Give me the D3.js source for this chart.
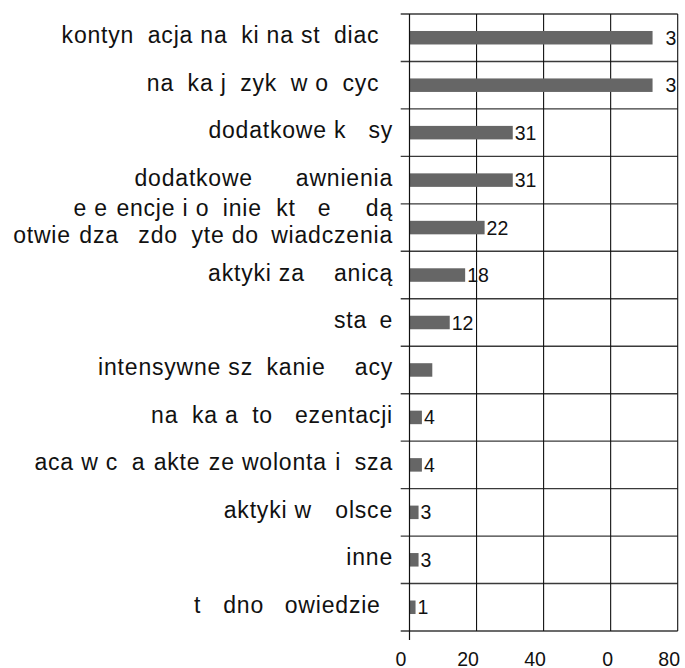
<!DOCTYPE html>
<html>
<head>
<meta charset="utf-8">
<script src="https://cdn.jsdelivr.net/npm/d3@7"></script>
<style>
  body { margin: 0; background: #fff; }
  text { font-family: "Liberation Sans", Arial, sans-serif; fill: #111; }
</style>
</head>
<body>
<div id="chart"></div>
<script>

var categories = [
    "kontynuacja nauki na studiach",
    "nauka języków obcych",
    "dodatkowe kursy",
    "dodatkowe uprawnienia",
    "referencje i opinie, które będą\npotwierdzać zdobyte doświadczenia",
    "praktyki za granicą",
    "staże",
    "intensywne szukanie pracy",
    "nauka autoprezentacji",
    "praca w charakterze wolontariusza",
    "praktyki w Polsce",
    "inne",
    "trudno powiedzieć"
];
var barValues = [72.5, 72.5, 30.8, 30.8, 22.4, 16.6, 12, 6.8, 3.7, 3.7, 2.7, 2.7, 1.8];
var valueLabels = ["73", "73", "31", "31", "22", "18", "12", "7", "4", "4", "3", "3", "1"];
var xTicks = [0, 20, 40, 60, 80];

// glyphs the original export left blank (they keep their width)
var missingGlyphs = "bfghpruPęóśżć,67";

var barChart = {

    svg: null,

    // write a string as runs of tspans, blanking the glyphs the original lost
    glyphs: function (textSel, str) {
        var runs = [];
        Array.from(str).forEach(function (ch) {
            var hidden = missingGlyphs.indexOf(ch) >= 0;
            var last = runs[runs.length - 1];
            if (last && last.hidden === hidden) last.s += ch;
            else runs.push({ s: ch, hidden: hidden });
        });
        runs.forEach(function (r) {
            textSel.append("tspan")
                .attr("fill-opacity", r.hidden ? 0 : 1)
                .text(r.s);
        });
    },

    chart: function () {
        barChart.svg = d3.select("#chart")
            .append("svg")
            .attr("width", 685)
            .attr("height", 668);

        var svg = barChart.svg;

        var x = d3.scaleLinear().domain([0, 80]).range([409.5, 677.7]);
        var y = d3.scaleBand().domain(categories).range([14, 631]);
        var barH = 13.5;

        // row separators (stick out left of the axis like ticks)
        var rows = categories.map(function (c) { return y(c); }).concat([y.range()[1]]);
        svg.append("g").selectAll("line")
            .data(rows)
            .enter().append("line")
            .attr("x1", 400.7).attr("x2", x(80))
            .attr("y1", function (d) { return d; })
            .attr("y2", function (d) { return d; })
            .attr("stroke", "#3a3a3a")
            .attr("stroke-width", 1.4);

        // vertical grid
        svg.append("g").selectAll("line")
            .data(xTicks.slice(1))
            .enter().append("line")
            .attr("x1", function (d) { return x(d); })
            .attr("x2", function (d) { return x(d); })
            .attr("y1", 14).attr("y2", 631)
            .attr("stroke", "#111")
            .attr("stroke-width", 1.1);

        // bars
        svg.append("g").selectAll("rect")
            .data(barValues)
            .enter().append("rect")
            .attr("x", x(0))
            .attr("y", function (d, i) { return y(categories[i]) + (y.bandwidth() - barH) / 2; })
            .attr("width", function (d) { return x(d) - x(0); })
            .attr("height", barH)
            .attr("fill", "#666666");

        // y axis line
        svg.append("line")
            .attr("x1", x(0)).attr("x2", x(0))
            .attr("y1", 14).attr("y2", 640)
            .attr("stroke", "#111")
            .attr("stroke-width", 1.2);

        // value labels
        svg.append("g").selectAll("text")
            .data(barValues)
            .enter().append("text")
            .attr("x", function (d) { return x(d) + 2; })
            .attr("y", function (d, i) { return y(categories[i]) + y.bandwidth() / 2 + 7; })
            .style("font-size", "19.5px")
            .each(function (d, i) { barChart.glyphs(d3.select(this), valueLabels[i]); });

        // category labels
        categories.forEach(function (c) {
            var lines = c.split("\n");
            var mid = y(c) + y.bandwidth() / 2;
            lines.forEach(function (line, j) {
                var base = lines.length === 1 ? mid + 5.5 : mid - 11.5 + j * 27;
                var t = svg.append("text")
                    .attr("x", 393)
                    .attr("y", base)
                    .attr("text-anchor", "end")
                    .style("font-size", "23px")
                    .style("letter-spacing", "0.8px");
                barChart.glyphs(t, line);
            });
        });

        // x tick labels
        svg.append("g").selectAll("text")
            .data(xTicks)
            .enter().append("text")
            .attr("x", function (d) { return x(d) - 8.5; })
            .attr("y", 665.5)
            .attr("text-anchor", "middle")
            .style("font-size", "19.5px")
            .each(function (d) { barChart.glyphs(d3.select(this), String(d)); });
    }
};

barChart.chart();
</script>
</body>
</html>
